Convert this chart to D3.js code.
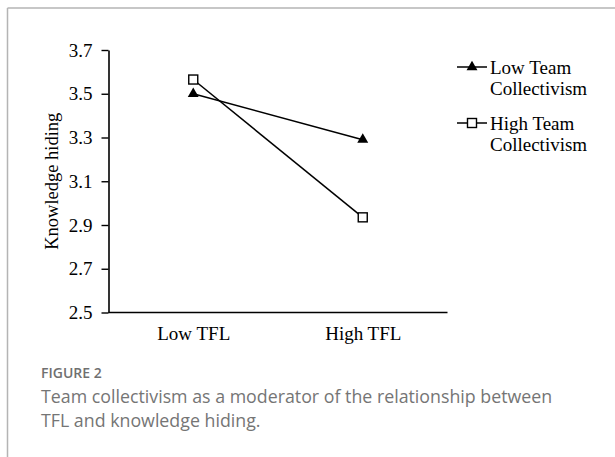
<!DOCTYPE html>
<html>
<head>
<meta charset="utf-8">
<script src="https://cdn.jsdelivr.net/npm/d3@7"></script>
<style>
  body { margin: 0; background: #fff; }
  svg { display: block; }
</style>
</head>
<body>
<div id="chart"></div>
<script>
// Chart values
const categories = ["Low TFL", "High TFL"];
const lowTeamValues = [3.50, 3.29];
const highTeamValues = [3.565, 2.935];
const yTicks = [2.5, 2.7, 2.9, 3.1, 3.3, 3.5, 3.7];
const seriesNames = ["Low Team Collectivism", "High Team Collectivism"];
const captionLabel = "FIGURE 2";
const captionLines = [
  "Team collectivism as a moderator of the relationship between",
  "TFL and knowledge hiding."
];

const W = 615, H = 457;
const serif = "'Times New Roman', 'Liberation Serif', serif";
const sans = "'Open Sans', 'Noto Sans', sans-serif";
const serifSize = "19px";

const svg = d3.select("#chart").append("svg")
  .attr("width", W)
  .attr("height", H);

// Frame: top and left grey rules of the figure box
svg.append("line")
  .attr("x1", 7.5).attr("x2", W).attr("y1", 8).attr("y2", 8)
  .attr("stroke", "#b4b4b4").attr("stroke-width", 1.5);
svg.append("line")
  .attr("x1", 7.5).attr("x2", 7.5).attr("y1", 8).attr("y2", H)
  .attr("stroke", "#b4b4b4").attr("stroke-width", 1.5);

// Scales
const x = d3.scalePoint().domain(categories).range([108.5, 447.5]).padding(0.5);
const y = d3.scaleLinear().domain([2.5, 3.7]).range([312.5, 50]);

// Y axis
const yAxis = svg.append("g")
  .attr("transform", "translate(108.5,0)")
  .call(d3.axisLeft(y).tickValues(yTicks).tickFormat(d3.format(".1f"))
    .tickSize(7).tickSizeOuter(0).tickPadding(9));
yAxis.select(".domain").attr("stroke", "#000").attr("stroke-width", 1.6);
yAxis.selectAll(".tick line").attr("stroke", "#000").attr("stroke-width", 1.4);
yAxis.selectAll("text")
  .style("font-family", serif).style("font-size", serifSize).attr("fill", "#000");

// X axis (baseline only, labels under the categories)
const xAxis = svg.append("g")
  .attr("transform", "translate(0," + y(2.5) + ")")
  .call(d3.axisBottom(x).tickSize(0).tickSizeOuter(0).tickPadding(14));
xAxis.select(".domain").attr("stroke", "#000").attr("stroke-width", 1.6)
  .attr("d", "M108.5,0H447.5");
xAxis.selectAll("text")
  .style("font-family", serif).style("font-size", serifSize).attr("fill", "#000");

// Y axis title
svg.append("text")
  .attr("transform", "translate(58," + (y(3.1)) + ") rotate(-90)")
  .attr("text-anchor", "middle")
  .style("font-family", serif).style("font-size", "18.5px")
  .text("Knowledge hiding");

// Lines
const series = [
  { name: seriesNames[0], values: lowTeamValues, marker: "triangle" },
  { name: seriesNames[1], values: highTeamValues, marker: "square" }
];

const line = d3.line()
  .x((d, i) => x(categories[i]))
  .y(d => y(d));

svg.selectAll(".series-line")
  .data(series)
  .enter()
  .append("path")
  .attr("class", "series-line")
  .attr("d", d => line(d.values))
  .attr("fill", "none")
  .attr("stroke", "#000")
  .attr("stroke-width", 1.5);

function drawMarker(g, type, cx, cy) {
  if (type === "triangle") {
    g.append("path")
      .attr("d", d3.symbol().type(d3.symbolTriangle).size(52)())
      .attr("transform", "translate(" + cx + "," + cy + ")")
      .attr("fill", "#000");
  } else {
    g.append("rect")
      .attr("x", cx - 4.5).attr("y", cy - 4.5)
      .attr("width", 9).attr("height", 9)
      .attr("fill", "#fff").attr("stroke", "#000").attr("stroke-width", 1.4);
  }
}

const markers = svg.append("g");
series.forEach(s => {
  s.values.forEach((v, i) => drawMarker(markers, s.marker, x(categories[i]), y(v)));
});

// Legend
const legendTop = [67, 123];
series.forEach((s, i) => {
  const g = svg.append("g");
  const ly = legendTop[i];
  g.append("line")
    .attr("x1", 457).attr("x2", 487).attr("y1", ly).attr("y2", ly)
    .attr("stroke", "#000").attr("stroke-width", 1.5);
  drawMarker(g, s.marker, 472, ly);
  const words = s.name.split(" ");
  const t = g.append("text")
    .attr("x", 490).attr("y", ly + 7)
    .style("font-family", serif).style("font-size", serifSize);
  t.append("tspan").attr("x", 490).text(words.slice(0, 2).join(" "));
  t.append("tspan").attr("x", 490).attr("dy", 21).text(words.slice(2).join(" "));
});

// Caption
svg.append("text")
  .attr("x", 41).attr("y", 378)
  .style("font-family", sans).style("font-size", "14px").style("font-weight", 600)
  .attr("fill", "#707070")
  .text(captionLabel);

svg.selectAll(".caption-line")
  .data(captionLines)
  .enter()
  .append("text")
  .attr("class", "caption-line")
  .attr("x", 41)
  .attr("y", (d, i) => 403 + i * 23.5)
  .style("font-family", sans).style("font-size", "17.8px")
  .attr("fill", "#757575")
  .text(d => d);
</script>
</body>
</html>
